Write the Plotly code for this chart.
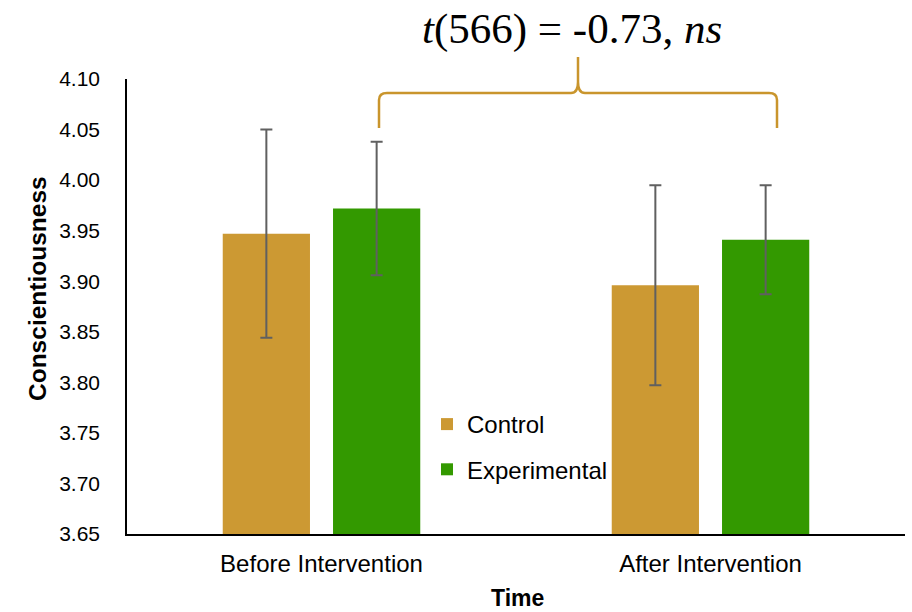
import plotly.graph_objects as go

# ---- data ----
groups = ["Before Intervention", "After Intervention"]
control = [3.947, 3.896]
control_err = [0.103, 0.099]
experimental = [3.972, 3.941]
experimental_err = [0.066, 0.054]
y_ticks = [3.65, 3.70, 3.75, 3.80, 3.85, 3.90, 3.95, 4.00, 4.05, 4.10]
stat_label = "<i>t</i>(566) = -0.73, <i>ns</i>"
x_title = "<b>Time</b>"
y_title = "<b>Conscientiousness</b>"

# ---- layout geometry (pixels) ----
W, H = 912, 612
L, R, T, B = 127, 7, 79, 78
PW, PH = W - L - R, H - T - B


def px(x):
    return (x - L) / PW


def py(y):
    return (H - B - y) / PH


GOLD = "#CC9933"
GREEN = "#339900"
ERR = "#606060"

fig = go.Figure()
fig.add_trace(go.Bar(
    x=groups, y=control, name="Control", marker=dict(color=GOLD, line=dict(width=0)),
    error_y=dict(type="data", array=control_err, visible=True, color=ERR, thickness=2, width=6),
    legendgroup="c",
))
fig.add_trace(go.Bar(
    x=groups, y=experimental, name="Experimental", marker=dict(color=GREEN, line=dict(width=0)),
    error_y=dict(type="data", array=experimental_err, visible=True, color=ERR, thickness=2, width=6),
    legendgroup="e",
))

# curly bracket
path = (
    f"M {px(379)} {py(128)} L {px(379)} {py(100)} "
    f"Q {px(379)} {py(93)} {px(387)} {py(93)} "
    f"L {px(571)} {py(93)} Q {px(578)} {py(93)} {px(578)} {py(82)} "
    f"L {px(578)} {py(57)} "
    f"M {px(578)} {py(82)} Q {px(578)} {py(93)} {px(585)} {py(93)} "
    f"L {px(769)} {py(93)} Q {px(777)} {py(93)} {px(777)} {py(100)} "
    f"L {px(777)} {py(128)}"
)
fig.add_shape(type="path", path=path, xref="paper", yref="paper",
              line=dict(color="#C9952C", width=2.5))

fig.add_annotation(text=stat_label, xref="paper", yref="paper",
                   x=px(571.5), y=py(29), xanchor="center", yanchor="middle",
                   showarrow=False,
                   font=dict(family="Liberation Serif, Times New Roman, serif", size=43, color="black"))

# axis titles as annotations (positioned like the reference)
fig.add_annotation(text=x_title, xref="paper", yref="paper",
                   x=px(517), y=py(598), xanchor="center", yanchor="middle",
                   showarrow=False, font=dict(size=23, color="black"))
fig.add_annotation(text=y_title, xref="paper", yref="paper", textangle=-90,
                   x=px(37), y=py(289), xanchor="center", yanchor="middle",
                   showarrow=False, font=dict(size=24.5, color="black"))

fig.update_layout(
    width=W, height=H,
    margin=dict(l=L, r=R, t=T, b=B, pad=0, autoexpand=False),
    plot_bgcolor="white", paper_bgcolor="white",
    barmode="group", bargap=0.433, bargroupgap=0.209,
    font=dict(family="Liberation Sans, Arial, sans-serif", color="black"),
    legend=dict(
        x=px(427), y=py(402), xanchor="left", yanchor="top",
        font=dict(size=24, color="black"), bgcolor="rgba(0,0,0,0)",
        traceorder="grouped", tracegroupgap=11,
    ),
    xaxis=dict(
        automargin=False,
        showline=True, linecolor="black", linewidth=1.5,
        showgrid=False, ticks="outside", ticklen=7, tickcolor="rgba(0,0,0,0)",
        tickfont=dict(size=24, color="black"),
    ),
    yaxis=dict(
        automargin=False,
        range=[3.65, 4.10], tickvals=y_ticks, tickformat=".2f",
        showline=True, linecolor="black", linewidth=1.5,
        showgrid=False, zeroline=False, ticks="outside", ticklen=21, tickcolor="rgba(0,0,0,0)",
        tickfont=dict(size=21, color="black"),
    ),
)

fig.write_html("out.html", config={"displayModeBar": False},
               post_script="document.body.style.margin='0';")
